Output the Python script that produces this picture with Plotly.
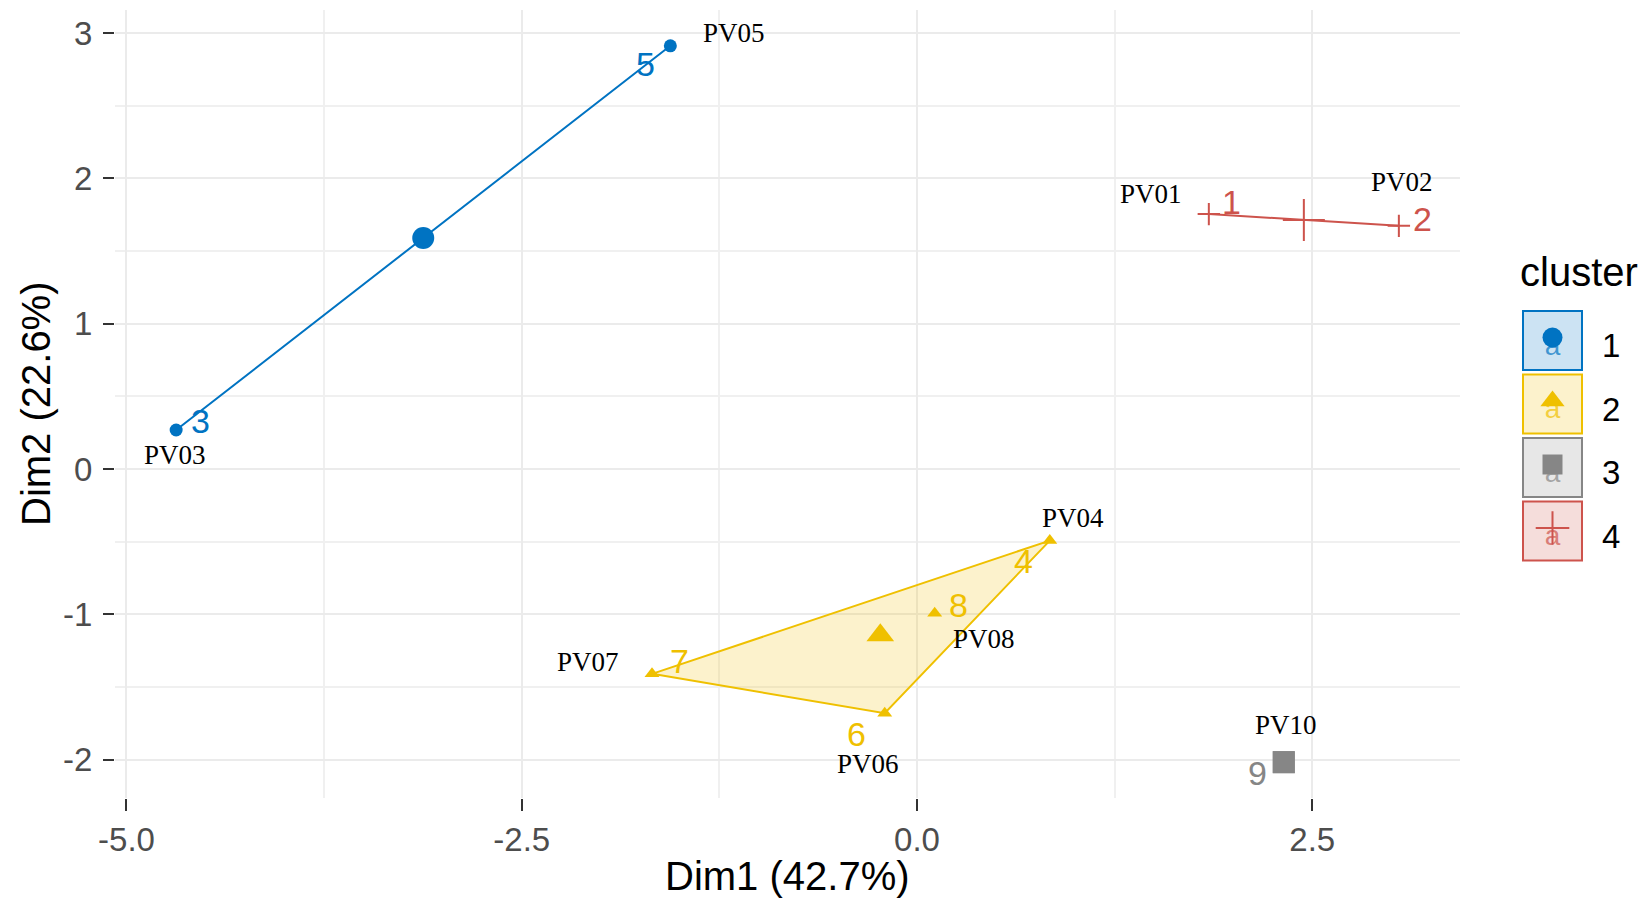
import plotly.graph_objects as go

# --- data: PCA coordinates of each site and its k-means cluster ---
site_names = ["PV01", "PV02", "PV03", "PV04", "PV05", "PV06", "PV07", "PV08", "PV10"]
row_ids = ["1", "2", "3", "4", "5", "6", "7", "8", "9"]
dim1 = [1.846, 3.048, -4.686, 0.840, -1.560, -0.204, -1.676, 0.112, 2.320]
dim2 = [1.754, 1.673, 0.268, -0.493, 2.912, -1.681, -1.410, -0.993, -2.018]
cluster = [4, 4, 1, 2, 1, 2, 2, 2, 3]
cluster_ids = [1, 2, 3, 4]

x_tickvals = [-5.0, -2.5, 0.0, 2.5]
x_ticktext = ["-5.0", "-2.5", "0.0", "2.5"]
y_tickvals = [-2, -1, 0, 1, 2, 3]
y_ticktext = ["-2", "-1", "0", "1", "2", "3"]

x_title = "Dim1 (42.7%)"
y_title = "Dim2 (22.6%)"
legend_title = "cluster"

# --- styling ---
W, H = 1652, 909
COLORS = {1: "#0073C2", 2: "#EFC000", 3: "#868686", 4: "#CD534C"}
SYMBOLS = {1: "circle", 2: "triangle-up", 3: "square", 4: "cross-thin"}
POINT_SIZE = {1: 13, 2: 13, 3: 22, 4: 16}
CENTER_SIZE = {1: 22, 2: 24, 3: 22, 4: 30}
SANS = "Liberation Sans, Arial, sans-serif"
SERIF = "Liberation Serif, Times New Roman, serif"

# pixel nudges (dx right, dy up) for the two label layers
ID_NUDGE = [(23, 12), (24, 7), (24, 9), (-26, -20), (-25, -18),
            (-28, -21), (27, 13), (24, 8), (-26, -11)]
NAME_NUDGE = [(-58, 20), (3, 44), (-1, -25), (23, 23), (64, 13),
              (-17, -51), (-64, 12), (49, -26), (2, 37)]

# panel placement in pixels
PANEL_L, PANEL_R, PANEL_T, PANEL_B = 115, 1460, 10, 798


def rgba(hex_color, alpha):
    h = hex_color.lstrip("#")
    r, g, b = int(h[0:2], 16), int(h[2:4], 16), int(h[4:6], 16)
    return f"rgba({r},{g},{b},{alpha})"


def convex_hull(points):
    pts = sorted(set(points))
    if len(pts) <= 2:
        return pts

    def cross(o, a, b):
        return (a[0] - o[0]) * (b[1] - o[1]) - (a[1] - o[1]) * (b[0] - o[0])

    lower, upper = [], []
    for p in pts:
        while len(lower) >= 2 and cross(lower[-2], lower[-1], p) <= 0:
            lower.pop()
        lower.append(p)
    for p in reversed(pts):
        while len(upper) >= 2 and cross(upper[-2], upper[-1], p) <= 0:
            upper.pop()
        upper.append(p)
    return lower[:-1] + upper[:-1]


def expanded(vals, frac=0.05):
    lo, hi = min(vals), max(vals)
    pad = (hi - lo) * frac
    return [lo - pad, hi + pad]


def midpoints(vals):
    return [(a + b) / 2 for a, b in zip(vals[:-1], vals[1:])]


fig = go.Figure()

# cluster hulls
for k in cluster_ids:
    pts = [(x, y) for x, y, c in zip(dim1, dim2, cluster) if c == k]
    hull = convex_hull(pts)
    if len(hull) < 2:
        continue
    hx = [p[0] for p in hull] + [hull[0][0]]
    hy = [p[1] for p in hull] + [hull[0][1]]
    fig.add_trace(go.Scatter(
        x=hx, y=hy, mode="lines", fill="toself",
        fillcolor=rgba(COLORS[k], 0.2),
        line=dict(color=COLORS[k], width=2),
        hoverinfo="skip", showlegend=False))

# individual points and cluster centres
for k in cluster_ids:
    xs = [x for x, c in zip(dim1, cluster) if c == k]
    ys = [y for y, c in zip(dim2, cluster) if c == k]
    line_w = 2 if k == 4 else 0
    fig.add_trace(go.Scatter(
        x=xs, y=ys, mode="markers", showlegend=False,
        marker=dict(symbol=SYMBOLS[k], size=POINT_SIZE[k], color=COLORS[k],
                    line=dict(color=COLORS[k], width=line_w))))
    fig.add_trace(go.Scatter(
        x=[sum(xs) / len(xs)], y=[sum(ys) / len(ys)], mode="markers",
        showlegend=False,
        marker=dict(symbol=SYMBOLS[k], size=CENTER_SIZE[k], color=COLORS[k],
                    line=dict(color=COLORS[k], width=line_w))))

annotations = []
for i in range(len(dim1)):
    dx, dy = ID_NUDGE[i]
    annotations.append(dict(
        x=dim1[i], y=dim2[i], xref="x", yref="y", text=row_ids[i],
        showarrow=False, xshift=dx, yshift=dy,
        xanchor="center", yanchor="middle",
        font=dict(family=SANS, size=34, color=COLORS[cluster[i]])))
    dx, dy = NAME_NUDGE[i]
    annotations.append(dict(
        x=dim1[i], y=dim2[i], xref="x", yref="y", text=site_names[i],
        showarrow=False, xshift=dx, yshift=dy,
        xanchor="center", yanchor="middle",
        font=dict(family=SERIF, size=27, color="black")))

# axis titles
annotations.append(dict(
    x=(PANEL_L + PANEL_R) / 2 / W, y=1 - 876 / H, xref="paper", yref="paper",
    xanchor="center", yanchor="middle",
    text=x_title, showarrow=False, font=dict(family=SANS, size=40, color="black")))
annotations.append(dict(
    x=36 / W, y=1 - (PANEL_T + PANEL_B) / 2 / H, xref="paper", yref="paper",
    xanchor="center", yanchor="middle",
    text=y_title, textangle=-90, showarrow=False,
    font=dict(family=SANS, size=40, color="black")))

# legend, drawn in a pixel-unit side panel
LEG_X0 = 1486
KEY_L, KEY_R, KEY_TOP, KEY_H, KEY_STEP = 1523, 1582, 311, 59, 63.5
annotations.append(dict(
    x=1518, y=272, xref="x2", yref="y2", text=legend_title, showarrow=False,
    xanchor="left", yanchor="middle",
    font=dict(family=SANS, size=40, color="black")))
shapes = []
for j, k in enumerate(cluster_ids):
    top = KEY_TOP + j * KEY_STEP
    cy = top + KEY_H / 2
    cx = (KEY_L + KEY_R) / 2
    shapes.append(dict(
        type="rect", xref="x2", yref="y2", x0=KEY_L, x1=KEY_R, y0=top, y1=top + KEY_H,
        fillcolor=rgba(COLORS[k], 0.2), line=dict(color=COLORS[k], width=2),
        layer="below"))
    fig.add_trace(go.Scatter(
        x=[cx], y=[cy + 7], xaxis="x2", yaxis="y2", mode="text", text=["a"],
        textfont=dict(family=SANS, size=28, color=rgba(COLORS[k], 0.7)),
        showlegend=False, hoverinfo="skip"))
    fig.add_trace(go.Scatter(
        x=[cx], y=[cy - 3], xaxis="x2", yaxis="y2", mode="markers",
        marker=dict(symbol=SYMBOLS[k], size=[20, 21, 20, 24][j], color=COLORS[k],
                    line=dict(color=COLORS[k], width=2 if k == 4 else 0)),
        showlegend=False, hoverinfo="skip"))
    annotations.append(dict(
        x=1611, y=cy + 5, xref="x2", yref="y2", text=str(k), showarrow=False,
        xanchor="center", yanchor="middle",
        font=dict(family=SANS, size=33, color="black")))

axis_common = dict(
    showgrid=True, gridcolor="#EBEBEB", gridwidth=2, zeroline=False,
    showline=False, ticks="outside", tickwidth=2, tickcolor="#333333",
    tickfont=dict(family=SANS, size=33, color="#4D4D4D"),
    tickmode="array", automargin=False, fixedrange=True)

fig.update_layout(
    width=W, height=H,
    margin=dict(l=0, r=0, t=0, b=0),
    paper_bgcolor="white", plot_bgcolor="white",
    showlegend=False,
    xaxis=dict(
        domain=[PANEL_L / W, PANEL_R / W], range=expanded(dim1),
        tickvals=x_tickvals, ticktext=x_ticktext, ticklen=12,
        minor=dict(tickmode="array", tickvals=midpoints([-7.5] + x_tickvals + [5.0]),
                   showgrid=True, gridcolor="#F0F0F0", gridwidth=2, ticks=""),
        anchor="y", **axis_common),
    yaxis=dict(
        domain=[1 - PANEL_B / H, 1 - PANEL_T / H], range=expanded(dim2),
        tickvals=y_tickvals, ticktext=y_ticktext, ticklen=11,
        ticklabelstandoff=4,
        minor=dict(tickmode="array", tickvals=midpoints([-3] + y_tickvals + [4]),
                   showgrid=True, gridcolor="#F0F0F0", gridwidth=2, ticks=""),
        anchor="x", **axis_common),
    xaxis2=dict(domain=[LEG_X0 / W, 1], range=[LEG_X0, W], visible=False,
                anchor="y2", fixedrange=True),
    yaxis2=dict(domain=[0, 1], range=[H, 0], visible=False, anchor="x2",
                fixedrange=True),
    annotations=annotations,
    shapes=shapes,
)

fig.write_html("out.html")
